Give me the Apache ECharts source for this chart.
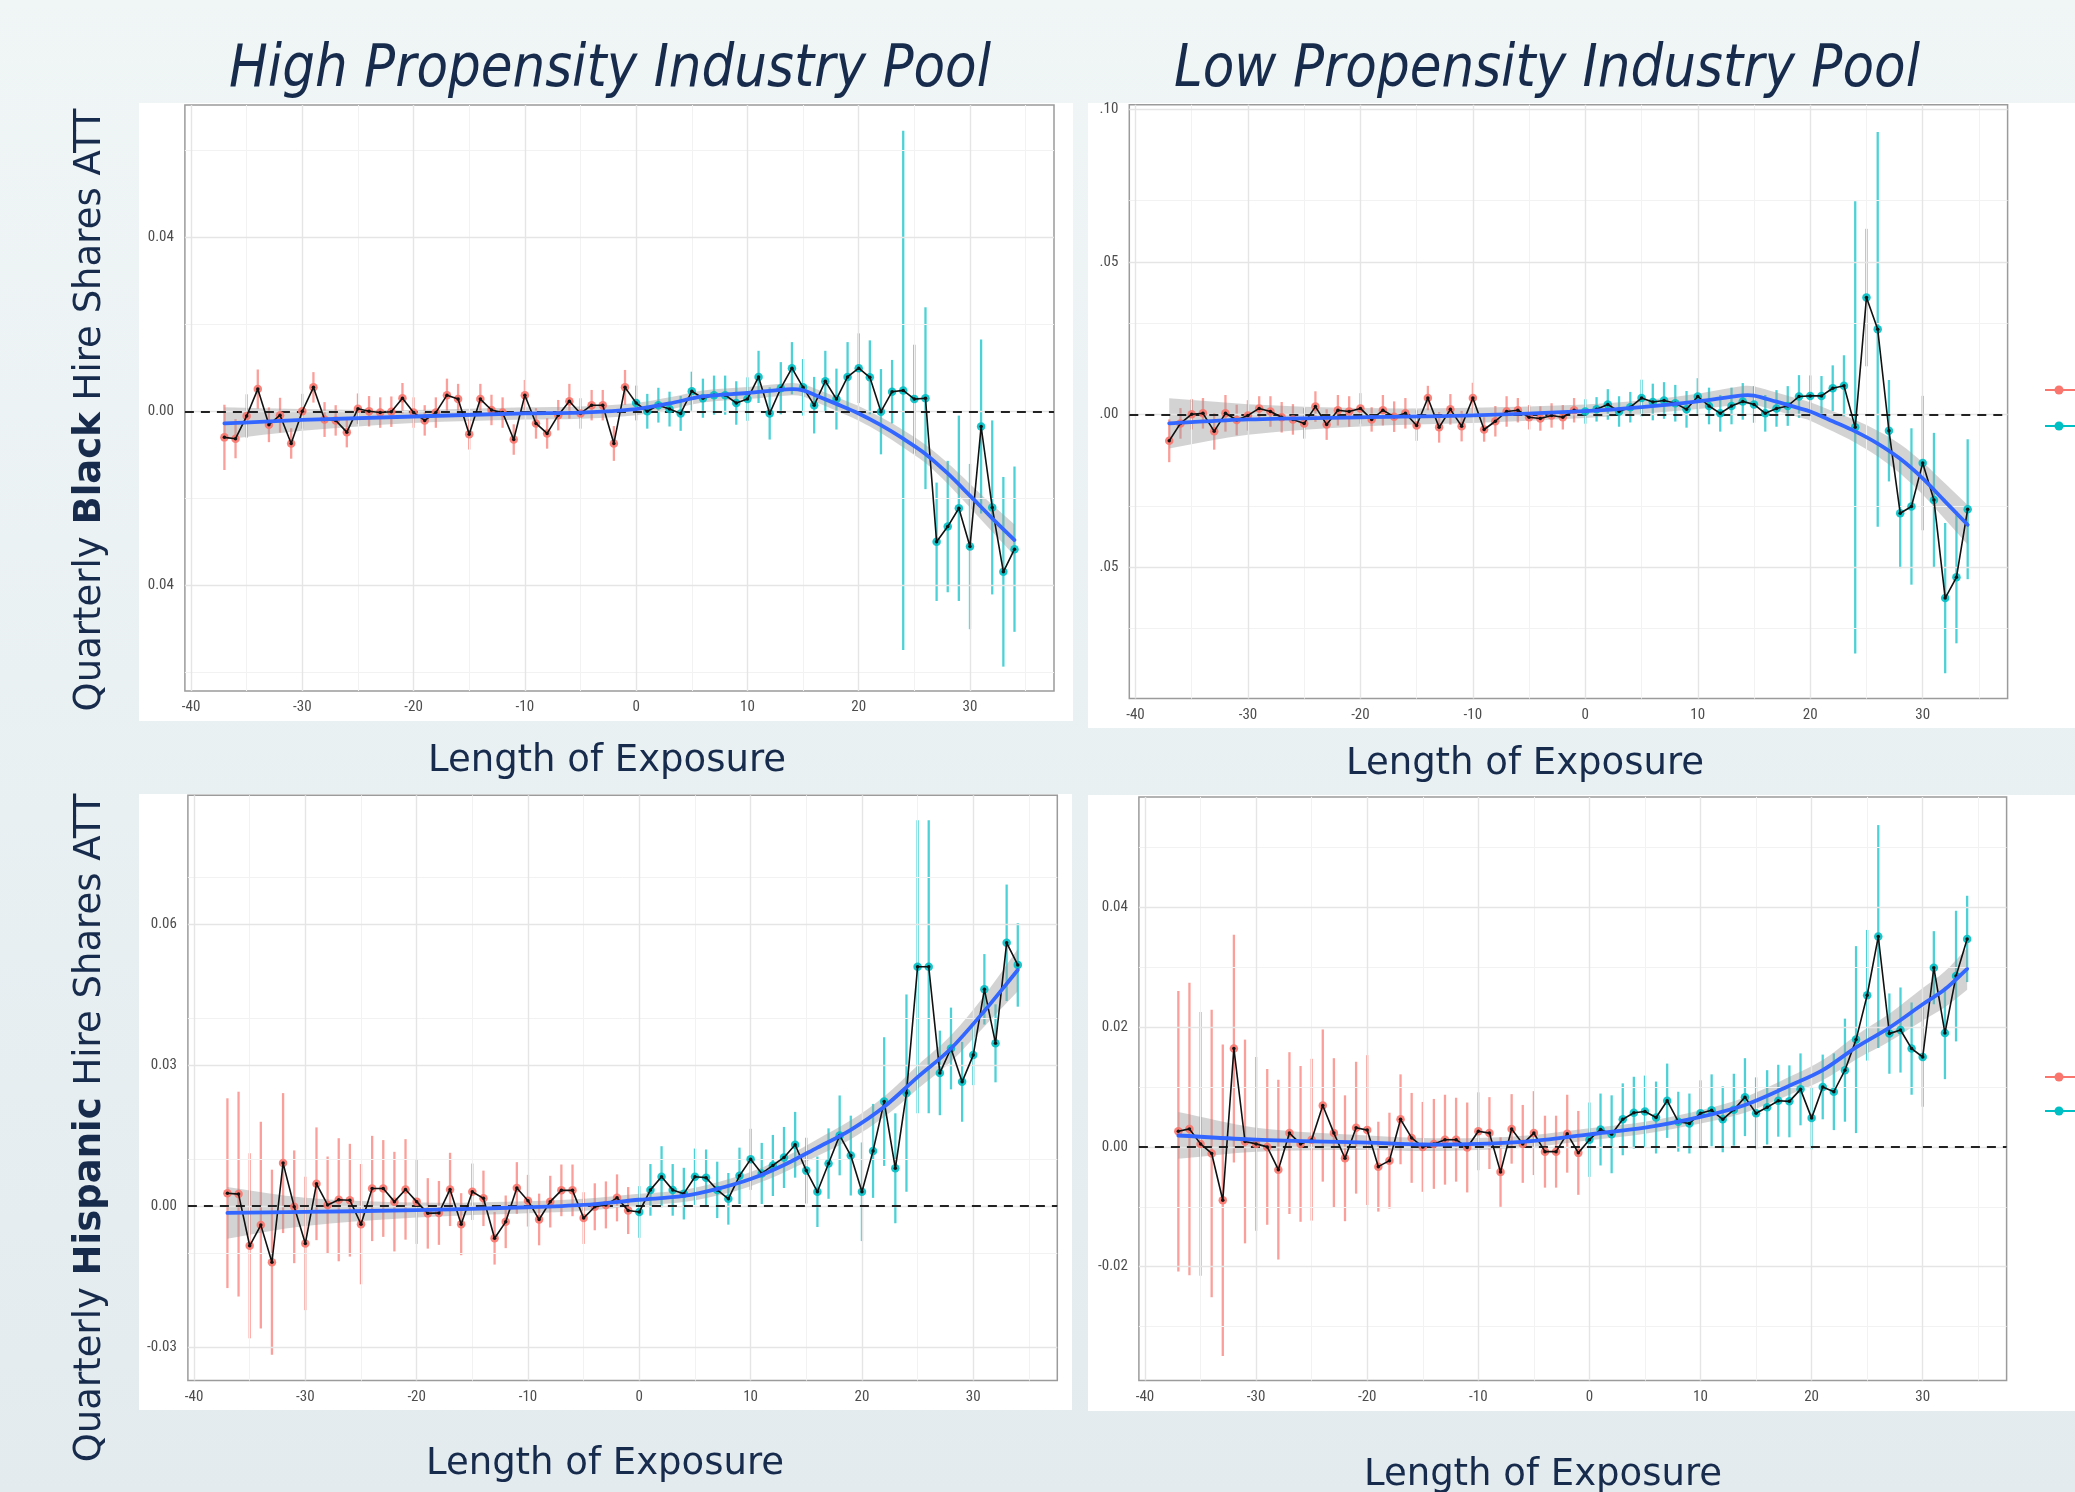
<!DOCTYPE html>
<html><head><meta charset="utf-8">
<script src="https://cdn.jsdelivr.net/npm/echarts@6/dist/echarts.min.js"></script>
<style>html,body{margin:0;padding:0;background:#eaf1f3}#c{width:2075px;height:1492px}</style>
</head><body><div id="c"></div>
<script>
// ---------- categories / ticks ----------
const exposure = [-37,-36,-35,-34,-33,-32,-31,-30,-29,-28,-27,-26,-25,-24,-23,-22,-21,-20,-19,-18,-17,-16,-15,-14,-13,-12,-11,-10,-9,-8,-7,-6,-5,-4,-3,-2,-1,0,1,2,3,4,5,6,7,8,9,10,11,12,13,14,15,16,17,18,19,20,21,22,23,24,25,26,27,28,29,30,31,32,33,34];
const xTicks = [-40,-30,-20,-10,0,10,20,30];
const xTickLabels = ['-40','-30','-20','-10','0','10','20','30'];
const xMinor = [-35,-25,-15,-5,5,15,25,35];

const tlYTicks = [-0.04,0,0.04];   const tlYLabels = ['0.04','0.00','0.04'];   const tlYMinor = [-0.06,-0.02,0.02,0.06];
const trYTicks = [-0.05,0,0.05,0.10]; const trYLabels = ['.05','.00','.05','.10']; const trYMinor = [-0.075,-0.025,0.025,0.075];
const blYTicks = [-0.03,0,0.03,0.06]; const blYLabels = ['-0.03','0.00','0.03','0.06']; const blYMinor = [-0.015,0.015,0.045,0.075];
const brYTicks = [-0.02,0,0.02,0.04]; const brYLabels = ['-0.02','0.00','0.02','0.04']; const brYMinor = [-0.03,-0.01,0.01,0.03,0.05];

// ---------- High propensity, Black ----------
const tlEst = [-0.0059,-0.0062,-0.001,0.0052,-0.003,-0.0008,-0.0073,0.0001,0.0056,-0.0018,-0.002,-0.0047,0.0007,0.0001,-0.0002,0,0.0031,-0.0002,-0.002,-0.0002,0.0038,0.0029,-0.0052,0.0029,0.0004,-0.0002,-0.0064,0.0038,-0.0027,-0.005,-0.0008,0.0024,-0.0004,0.0015,0.0015,-0.0073,0.0056,
0.002,0.0001,0.0015,0.0006,-0.0004,0.0047,0.0031,0.0038,0.0038,0.002,0.0029,0.008,-0.0004,0.0054,0.01,0.0056,0.0015,0.007,0.0029,0.008,0.01,0.0079,0.0,0.0046,0.0049,0.0029,0.0031,-0.0299,-0.0264,-0.0222,-0.031,-0.0034,-0.022,-0.0368,-0.0316];
const tlCi = [0.0075,0.0045,0.005,0.0045,0.004,0.004,0.0035,0.004,0.0035,0.004,0.0035,0.0035,0.0035,0.0035,0.0035,0.0035,0.0035,0.0035,0.0035,0.0035,0.0038,0.0035,0.0035,0.0035,0.0035,0.0035,0.0035,0.0035,0.0035,0.0035,0.0035,0.004,0.0035,0.0035,0.0035,0.004,0.004,
0.004,0.004,0.004,0.004,0.004,0.0045,0.0045,0.0045,0.0045,0.005,0.005,0.006,0.006,0.006,0.006,0.0065,0.0065,0.007,0.007,0.008,0.008,0.0085,0.0098,0.0073,0.0597,0.0125,0.0209,0.0136,0.0151,0.0213,0.019,0.020,0.020,0.0218,0.019];
const tlSmoothX = [-37,-30,-20,-10,-5,0,3,6,10,14,15,16,18,20,22,24,26,28,30,32,34];
const tlSmooth = [-0.0027,-0.0019,-0.0011,-0.0004,-0.0002,0.0006,0.0019,0.0035,0.0043,0.0052,0.0049,0.0039,0.0018,-0.0004,-0.0031,-0.0062,-0.0097,-0.0142,-0.0193,-0.0245,-0.0295];
const tlBand = [0.0037,0.0025,0.0015,0.0014,0.0014,0.0014,0.0014,0.0014,0.0014,0.0014,0.0014,0.0015,0.0016,0.0017,0.0018,0.002,0.0021,0.0024,0.0027,0.0031,0.0036];

// ---------- Low propensity, Black ----------
const trEst = [-0.0086,-0.0029,0.0001,0.0004,-0.0055,0.0004,-0.0018,-0.0003,0.002,0.001,-0.0009,-0.0016,-0.0029,0.0026,-0.0033,0.0014,0.001,0.002,-0.0016,0.0014,-0.0007,0.0004,-0.0036,0.0054,-0.0042,0.0017,-0.0038,0.0054,-0.0049,-0.0022,0.001,0.0014,-0.0009,-0.0013,-0.0003,-0.0009,0.0014,
0.001,0.0017,0.0033,0.001,0.0024,0.0054,0.0041,0.0046,0.0037,0.0017,0.0059,0.0028,0.0004,0.0028,0.0043,0.0033,0.0004,0.002,0.0028,0.0059,0.0061,0.0061,0.0086,0.0094,-0.0042,0.0383,0.0279,-0.0053,-0.0323,-0.0301,-0.0159,-0.028,-0.0601,-0.0533,-0.031];
const trCi = [0.007,0.005,0.005,0.005,0.006,0.006,0.005,0.005,0.004,0.005,0.005,0.005,0.005,0.005,0.005,0.005,0.005,0.005,0.004,0.005,0.005,0.005,0.005,0.004,0.005,0.005,0.005,0.005,0.004,0.005,0.005,0.004,0.004,0.004,0.004,0.004,0.004,
0.004,0.004,0.005,0.005,0.005,0.006,0.006,0.006,0.006,0.006,0.006,0.006,0.006,0.006,0.006,0.006,0.006,0.006,0.0065,0.007,0.0067,0.0065,0.0075,0.01,0.074,0.0225,0.0646,0.0166,0.018,0.0256,0.022,0.022,0.0246,0.0216,0.0229];
const trSmoothX = [-37,-30,-20,-10,0,5,10,14,15,17,19,20,22,24,26,28,30,32,34];
const trSmooth = [-0.0029,-0.0016,-0.0009,-0.0003,0.0011,0.0024,0.0043,0.0063,0.0062,0.0042,0.0021,0.001,-0.0022,-0.0055,-0.0095,-0.0145,-0.0209,-0.0285,-0.0361];
const trBand = [0.0082,0.005,0.003,0.0025,0.0022,0.0022,0.0025,0.003,0.003,0.003,0.003,0.003,0.0033,0.0037,0.0042,0.0048,0.0053,0.0059,0.0065];

// ---------- High propensity, Hispanic ----------
const blEst = [0.0027,0.0025,-0.0085,-0.0041,-0.012,0.0091,-0.0002,-0.008,0.0047,0.0002,0.0013,0.0012,-0.0039,0.0037,0.0037,0.0009,0.0035,0.0009,-0.0016,-0.0015,0.0035,-0.0039,0.003,0.0016,-0.0069,-0.0034,0.0038,0.0011,-0.0029,0.0009,0.0033,0.0033,-0.0026,-0.0002,0.0002,0.0017,-0.001,
-0.0013,0.0034,0.0062,0.0034,0.0026,0.0062,0.006,0.0034,0.0015,0.0064,0.0099,0.0069,0.0086,0.0103,0.013,0.0075,0.003,0.009,0.015,0.0107,0.003,0.0117,0.0222,0.008,0.024,0.0509,0.0509,0.0283,0.0335,0.0264,0.0321,0.0461,0.0346,0.056,0.0513];
const blCi = [0.0202,0.0218,0.0197,0.022,0.0197,0.0149,0.012,0.0142,0.012,0.0103,0.0131,0.012,0.0128,0.0112,0.0103,0.0106,0.0107,0.009,0.0075,0.0068,0.0078,0.0066,0.006,0.0059,0.0056,0.0056,0.0055,0.0055,0.0055,0.0055,0.0055,0.0055,0.0055,0.005,0.005,0.005,0.005,
0.0055,0.0055,0.0065,0.0055,0.0055,0.006,0.006,0.006,0.0055,0.006,0.0065,0.0065,0.0065,0.0065,0.007,0.007,0.0075,0.0075,0.0085,0.0085,0.0105,0.010,0.0137,0.0117,0.021,0.0312,0.0312,0.009,0.0087,0.0085,0.0064,0.0075,0.0083,0.0124,0.0089];
const blSmoothX = [-37,-30,-20,-10,-5,0,4,7,10,13,16,19,22,25,28,31,34];
const blSmooth = [-0.0015,-0.0013,-0.0009,-0.0003,0.0002,0.0013,0.0021,0.0036,0.0057,0.0087,0.0124,0.0162,0.0211,0.0274,0.0335,0.0415,0.0502];
const blBand = [0.0055,0.003,0.0016,0.0013,0.0013,0.0013,0.0013,0.0014,0.0015,0.0016,0.0018,0.002,0.0022,0.0025,0.0028,0.0033,0.0045];

// ---------- Low propensity, Hispanic ----------
const brEst = [0.0026,0.003,0.0005,-0.0011,-0.0089,0.0164,0.0009,0.0005,0,-0.0038,0.0023,0.0005,0.0012,0.0069,0.0023,-0.0019,0.0032,0.0028,-0.0033,-0.0023,0.0046,0.0015,0,0.0005,0.0012,0.0012,-0.0001,0.0026,0.0023,-0.0042,0.003,0.0005,0.0023,-0.0008,-0.0008,0.0022,-0.001,
0.0012,0.0029,0.0021,0.0046,0.0057,0.0059,0.0049,0.0077,0.0042,0.0039,0.0056,0.0061,0.0046,0.0062,0.0083,0.0056,0.0066,0.0077,0.0076,0.0096,0.0048,0.01,0.0092,0.0128,0.0179,0.0253,0.0351,0.0189,0.0195,0.0164,0.015,0.0299,0.019,0.0285,0.0347];
const brCi = [0.0234,0.0244,0.022,0.024,0.026,0.019,0.017,0.0145,0.013,0.015,0.0135,0.013,0.0135,0.0127,0.0125,0.0105,0.011,0.0125,0.0075,0.008,0.0075,0.0075,0.0075,0.0075,0.0075,0.007,0.0075,0.0065,0.006,0.0058,0.0058,0.0065,0.007,0.006,0.006,0.0065,0.007,
0.0062,0.006,0.0065,0.006,0.006,0.006,0.006,0.0062,0.005,0.005,0.0055,0.006,0.0055,0.006,0.0065,0.006,0.0062,0.006,0.006,0.006,0.0052,0.0054,0.0064,0.0086,0.0156,0.0109,0.0186,0.0067,0.0071,0.0077,0.0083,0.0061,0.0077,0.0109,0.0072];
const brSmoothX = [-37,-30,-20,-15,-10,-5,0,5,10,14,18,21,24,27,30,32,34];
const brSmooth = [0.0019,0.0012,0.0007,0.0004,0.0005,0.001,0.0021,0.0032,0.005,0.007,0.0102,0.0128,0.0166,0.0199,0.0238,0.0263,0.0297];
const brBand = [0.0039,0.002,0.0012,0.0011,0.001,0.001,0.001,0.001,0.0011,0.0013,0.0015,0.0017,0.002,0.0023,0.0027,0.003,0.0035];

// ---------- styling ----------
const RED = '#F8766D', TEAL = '#00BFC4', BLUE = '#3366FF', NAVY = '#172b4d';
const tickFont = "'Liberation Sans Narrow','Roboto Condensed','DejaVu Sans Condensed',Roboto,sans-serif";
const xMin = -40.55, xMax = 37.55;

const panels = [
  {grid:{left:184.9, top:105, width:869.1, height:586}, yMin:-0.0642, yMax:0.0705,
   yTicks:tlYTicks, yLabels:tlYLabels, yMinor:tlYMinor, est:tlEst, ci:tlCi, sx:tlSmoothX, sy:tlSmooth, band:tlBand},
  {grid:{left:1129.3, top:104.8, width:878.3, height:593.8}, yMin:-0.093, yMax:0.1014,
   yTicks:trYTicks, yLabels:trYLabels, yMinor:trYMinor, est:trEst, ci:trCi, sx:trSmoothX, sy:trSmooth, band:trBand},
  {grid:{left:187.9, top:795.3, width:869.4, height:585.3}, yMin:-0.0372, yMax:0.0874,
   yTicks:blYTicks, yLabels:blYLabels, yMinor:blYMinor, est:blEst, ci:blCi, sx:blSmoothX, sy:blSmooth, band:blBand},
  {grid:{left:1138.9, top:796.9, width:867.7, height:583.7}, yMin:-0.039, yMax:0.0584,
   yTicks:brYTicks, yLabels:brYLabels, yMinor:brYMinor, est:brEst, ci:brCi, sx:brSmoothX, sy:brSmooth, band:brBand}
];

function labelFor(ticks, labels){
  return function(v){
    for (let k=0;k<ticks.length;k++){ if (Math.abs(ticks[k]-v) < 1e-9) return labels[k]; }
    return '';
  };
}
function errRender(params, api){
  const x = api.value(0);
  const a = api.coord([x, api.value(1)]);
  const b = api.coord([x, api.value(2)]);
  return {type:'line', shape:{x1:a[0], y1:a[1], x2:b[0], y2:b[1]},
          style:{stroke: x < 0 ? RED : TEAL, lineWidth:2.3, opacity:0.7}};
}
// smooth path (cubic Hermite in x) through pixel points that were placed by the axes
function smoothPath(pts){
  const n = pts.length, m = [];
  for (let i = 0; i < n; i++){
    const a = pts[Math.max(0, i-1)], b = pts[Math.min(n-1, i+1)];
    m.push((b[1]-a[1]) / (b[0]-a[0]));
  }
  const f = v => v.toFixed(2);
  let s = 'M' + f(pts[0][0]) + ' ' + f(pts[0][1]);
  for (let i = 0; i < n-1; i++){
    const dx = pts[i+1][0] - pts[i][0];
    s += ' C' + f(pts[i][0] + dx/3) + ' ' + f(pts[i][1] + m[i]*dx/3) + ' ' +
         f(pts[i+1][0] - dx/3) + ' ' + f(pts[i+1][1] - m[i+1]*dx/3) + ' ' +
         f(pts[i+1][0]) + ' ' + f(pts[i+1][1]);
  }
  return s;
}
function bandRender(p){
  return function(params, api){
    const up = [], lo = [];
    p.sx.forEach((x,k) => {
      up.push(api.coord([x, p.sy[k] + p.band[k]]));
      lo.push(api.coord([x, p.sy[k] - p.band[k]]));
    });
    const d = smoothPath(up) + ' ' + smoothPath(lo.reverse()).replace(/^M/, 'L') + ' Z';
    return {type:'path', shape:{pathData:d}, style:{fill:'rgba(150,150,150,0.42)', stroke:'none'}};
  };
}
function fitRender(p){
  return function(params, api){
    const pts = p.sx.map((x,k) => api.coord([x, p.sy[k]]));
    return {type:'path', shape:{pathData:smoothPath(pts)},
            style:{fill:'none', stroke:BLUE, lineWidth:3.8, lineCap:'round', lineJoin:'round'}};
  };
}

const option = {animation:false, backgroundColor:'transparent', grid:[], xAxis:[], yAxis:[], series:[], graphic:[]};

panels.forEach((p, i) => {
  option.grid.push(Object.assign({show:true, borderColor:'#9b9b9b', borderWidth:1.5, backgroundColor:'#ffffff',
    containLabel:false, outerBoundsMode:'none'}, p.grid));
  option.xAxis.push({type:'value', gridIndex:i, min:xMin, max:xMax,
    splitLine:{show:false}, axisLine:{show:false},
    axisTick:{show:true, length:5, customValues:xTicks, lineStyle:{color:'#555', width:1}},
    axisLabel:{customValues:xTicks, interval:0, formatter:labelFor(xTicks, xTickLabels), fontSize:15, color:'#4d4d4d', margin:9, fontFamily:tickFont}});
  option.yAxis.push({type:'value', gridIndex:i, min:p.yMin, max:p.yMax,
    splitLine:{show:false}, axisLine:{show:false},
    axisTick:{show:true, length:5, customValues:p.yTicks, lineStyle:{color:'#555', width:1}},
    axisLabel:{customValues:p.yTicks, interval:0, formatter:labelFor(p.yTicks, p.yLabels), fontSize:15, color:'#4d4d4d', margin:11, fontFamily:tickFont}});

  const gl = [];
  xMinor.forEach(v => gl.push({xAxis:v, lineStyle:{color:'#f2f2f2', width:1, type:'solid'}}));
  p.yMinor.forEach(v => gl.push({yAxis:v, lineStyle:{color:'#f2f2f2', width:1, type:'solid'}}));
  xTicks.forEach(v => gl.push({xAxis:v, lineStyle:{color:'#e5e5e5', width:1.4, type:'solid'}}));
  p.yTicks.forEach(v => gl.push({yAxis:v, lineStyle:{color:'#e5e5e5', width:1.4, type:'solid'}}));
  gl.push({yAxis:0, lineStyle:{color:'#222', width:2.2, type:[9,7]}});
  option.series.push({type:'line', xAxisIndex:i, yAxisIndex:i, data:[[0,0]], symbol:'none', silent:true, z:1,
    lineStyle:{width:0, opacity:0},
    markLine:{silent:true, symbol:['none','none'], label:{show:false}, animation:false, data:gl}});

  // error bars
  option.series.push({type:'custom', xAxisIndex:i, yAxisIndex:i, z:3, silent:true,
    data: exposure.map((x,k) => [x, p.est[k]-p.ci[k], p.est[k]+p.ci[k]]),
    encode:{x:0, y:[1,2]}, renderItem:errRender});

  // smoother confidence band
  option.series.push({type:'custom', xAxisIndex:i, yAxisIndex:i, z:4, silent:true, clip:true,
    data:[[p.sx[0], p.sy[0]]], encode:{x:0, y:1}, renderItem:bandRender(p)});

  // points
  const pre = [], post = [];
  exposure.forEach((x,k) => (x < 0 ? pre : post).push([x, p.est[k]]));
  option.series.push({type:'scatter', xAxisIndex:i, yAxisIndex:i, z:5, silent:true, data:pre, symbolSize:8.5,
    itemStyle:{color:RED, opacity:0.9}});
  option.series.push({type:'scatter', xAxisIndex:i, yAxisIndex:i, z:5, silent:true, data:post, symbolSize:8.5,
    itemStyle:{color:TEAL, opacity:0.9}});

  // black connecting line
  option.series.push({type:'line', xAxisIndex:i, yAxisIndex:i, z:6, silent:true,
    data: exposure.map((x,k) => [x, p.est[k]]), symbol:'circle', symbolSize:3.5, showSymbol:true,
    itemStyle:{color:'#111'}, lineStyle:{color:'#111', width:1.6}});

  // loess smoother
  option.series.push({type:'custom', xAxisIndex:i, yAxisIndex:i, z:7, silent:true, clip:true,
    data:[[p.sx[0], p.sy[0]]], encode:{x:0, y:1}, renderItem:fitRender(p)});
});

// ---------- decorations ----------
const G = [];
G.push({type:'rect', z:-100, silent:true, shape:{x:0, y:0, width:2075, height:1492},
  style:{fill: new echarts.graphic.LinearGradient(0,0,0,1,[{offset:0,color:'#f0f6f6'},{offset:1,color:'#e3ebef'}])}});
[[139,103,934,618],[1088,103,987,625],[139,794,933,616],[1088,795,987,616]].forEach(r =>
  G.push({type:'rect', z:-90, silent:true, shape:{x:r[0], y:r[1], width:r[2], height:r[3]}, style:{fill:'#ffffff'}}));

function txt(t, x, y, size, extra){
  const el = {type:'text', x:x, y:y, z:100, silent:true,
    style:{text:t, fontSize:size, fontFamily:'DejaVu Sans', fill:NAVY, align:'center', verticalAlign:'middle'}};
  if (extra) { if (extra.scaleX) el.scaleX = extra.scaleX; if (extra.italic) el.style.fontStyle = 'italic'; }
  return el;
}
G.push(txt('High Propensity Industry Pool', 610, 71, 58, {scaleX:0.89, italic:true}));
G.push(txt('Low Propensity Industry Pool', 1547, 71, 58, {scaleX:0.89, italic:true}));
G.push(txt('Length of Exposure', 607, 761, 37));
G.push(txt('Length of Exposure', 1525, 764, 37));
G.push(txt('Length of Exposure', 605, 1464, 37));
G.push(txt('Length of Exposure', 1543, 1475, 37));

const richB = {b:{fontWeight:'bold', fontSize:37, fontFamily:'DejaVu Sans', fill:NAVY}};
G.push({type:'text', x:90, y:410, rotation:Math.PI/2, z:100, silent:true,
  style:{text:'Quarterly {b|Black} Hire Shares ATT', rich:richB, fontSize:37, fontFamily:'DejaVu Sans', fill:NAVY, align:'center', verticalAlign:'middle'}});
G.push({type:'text', x:90, y:1128, rotation:Math.PI/2, z:100, silent:true,
  style:{text:'Quarterly {b|Hispanic} Hire Shares ATT', rich:richB, fontSize:37, fontFamily:'DejaVu Sans', fill:NAVY, align:'center', verticalAlign:'middle'}});

// legend keys (cut off at the right edge, as in the reference)
[[390,RED],[426,TEAL],[1077,RED],[1111,TEAL]].forEach(k => {
  G.push({type:'line', z:100, silent:true, shape:{x1:2045, y1:k[0], x2:2075, y2:k[0]}, style:{stroke:k[1], lineWidth:2}});
  G.push({type:'circle', z:100, silent:true, shape:{cx:2059, cy:k[0], r:4.5}, style:{fill:k[1]}});
});
option.graphic = {elements: G};

const chart = echarts.init(document.getElementById('c'), null, {renderer:'canvas', width:2075, height:1492});
chart.setOption(option);
</script>
</body></html>
